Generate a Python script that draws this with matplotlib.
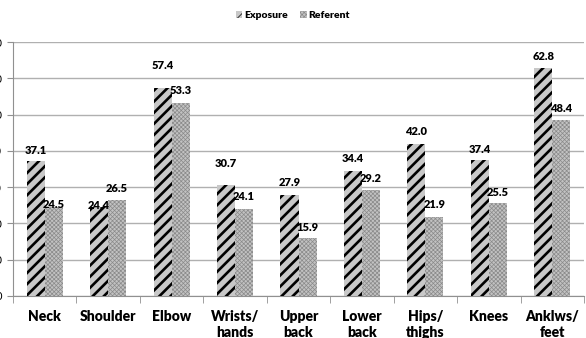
import matplotlib.pyplot as plt
import numpy as np

# 신체 부위별 값
parts = ['Neck', 'Shoulder', 'Elbow', 'Wrists/\nhands', 'Upper\nback',
         'Lower\nback', 'Hips/\nthighs', 'Knees', 'Anklws/\nfeet']
exposure = [37.1, 24.4, 57.4, 30.7, 27.9, 34.4, 42.0, 37.4, 62.8]
referent = [24.5, 26.5, 53.3, 24.1, 15.9, 29.2, 21.9, 25.5, 48.4]

# label offsets (points above bar top)
exp_off = [8, 1.5, 16, 15, 8.5, 9, 8.5, 8, 8.5]
ref_off = [2, 8.5, 8.5, 8.5, 7.5, 8.5, 8.5, 8, 8.5]

plt.rcParams['font.family'] = ['Lato', 'DejaVu Sans']

fig = plt.figure(figsize=(5.86, 3.38), dpi=100)
ax = fig.add_axes([0.0222, 0.1243, 0.9744, 0.7514])

x = np.arange(len(parts))
w = 0.284

plt.rcParams['hatch.linewidth'] = 1.9
b1 = ax.bar(x - w / 2, exposure, w, color='#c8c8c8', hatch='///',
            edgecolor='black', linewidth=0, label='Exposure', zorder=3)
plt.rcParams['hatch.linewidth'] = 0.5
b2 = ax.bar(x + w / 2, referent, w, color='#c2c2c2', hatch='xxxxxxxx',
            edgecolor='#8a8a8a', linewidth=0, label='Referent', zorder=3)

for i in range(len(parts)):
    ax.annotate('%.1f' % exposure[i], (x[i] - w / 2, exposure[i]),
                xytext=(0, exp_off[i]), textcoords='offset points',
                ha='center', va='center', fontsize=8, fontweight='heavy', zorder=4)
    ax.annotate('%.1f' % referent[i], (x[i] + w / 2, referent[i]),
                xytext=(0, ref_off[i]), textcoords='offset points',
                ha='center', va='center', fontsize=8, fontweight='heavy', zorder=4)

ax.set_xlim(-0.5, len(parts) - 0.5)
ax.set_ylim(0, 70)
ax.set_yticks(range(0, 71, 10))
ax.yaxis.grid(True, color='#b0b0b0', linewidth=1)
ax.set_axisbelow(True)

ax.set_xticks(x)
ax.set_xticklabels(parts, fontsize=10, fontweight='heavy', linespacing=1.25)
ax.set_xticks(np.arange(-0.5, len(parts)), minor=True)
ax.tick_params(axis='x', which='major', length=0, pad=10)
ax.tick_params(axis='x', which='minor', length=5, color='#909090')
ax.tick_params(axis='y', length=4, color='#909090', labelsize=8, pad=4)

for s in ['top', 'right']:
    ax.spines[s].set_visible(False)
ax.spines['left'].set_color('#909090')
ax.spines['bottom'].set_color('#909090')

fig.legend(handles=[b1, b2], loc='center', bbox_to_anchor=(0.5, 0.953),
           ncol=2, frameon=False, handlelength=0.6,
           handleheight=0.6, handletextpad=0.2, columnspacing=1.2,
           prop={'weight': 'heavy', 'size': 7.5})

fig.savefig('out.png', dpi=100)
